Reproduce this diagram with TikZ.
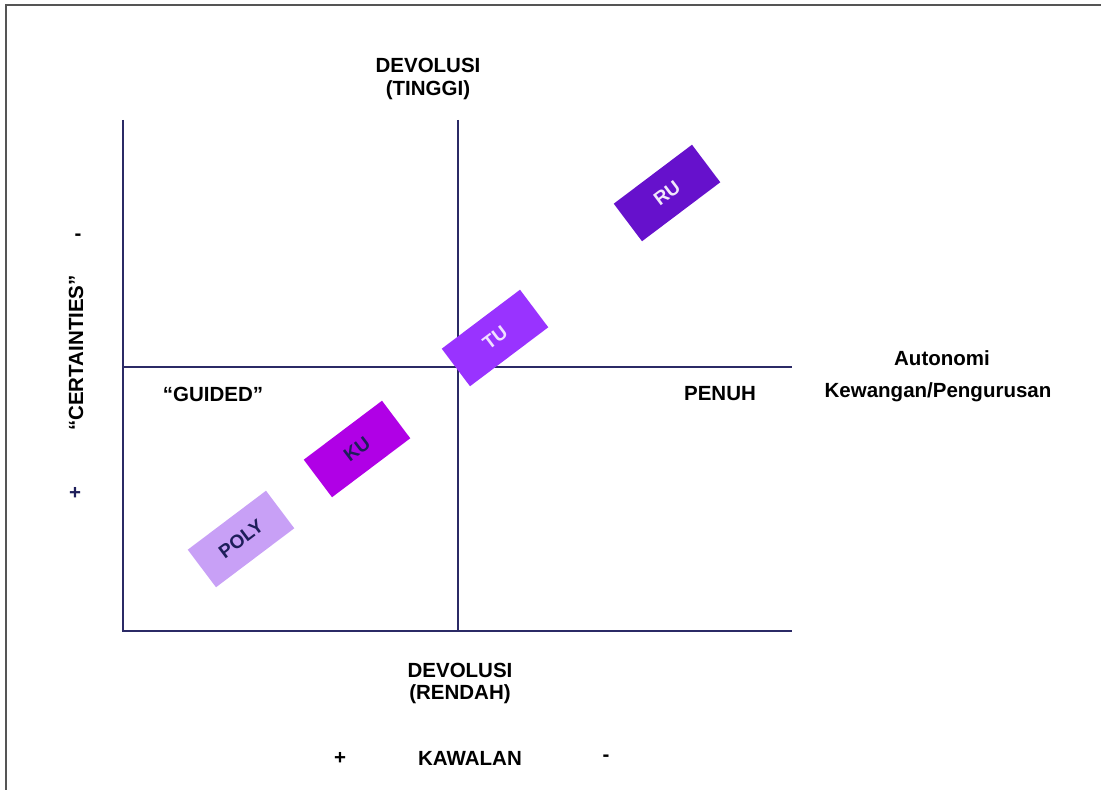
\documentclass[tikz,border=0pt]{standalone}
\usepackage{fontspec}
\setmainfont{Liberation Sans}
\begin{document}
\begin{tikzpicture}[x=1pt,y=1pt,
  axis/.style={draw=axisblue, line width=1.8pt},
  lbl/.style={font=\fontsize{20.5}{24}\selectfont\bfseries, text=black, inner sep=0pt},
  sign/.style={font=\fontsize{20.5}{24}\selectfont\bfseries, text=signblue, inner sep=0pt},
  uni/.style={minimum width=98pt, minimum height=47pt, inner sep=0pt, rotate=37,
    font=\fontsize{19}{22}\selectfont\bfseries}
]
\definecolor{axisblue}{HTML}{2B2A66}
\definecolor{signblue}{HTML}{1E1E5A}
\definecolor{ruc}{HTML}{6611CC}
\definecolor{tuc}{HTML}{9933FF}
\definecolor{kuc}{HTML}{B000E6}
\definecolor{polyc}{HTML}{C8A0F6}
\definecolor{framegray}{HTML}{555555}

\useasboundingbox (0,0) rectangle (1101,790);
% outer frame (top and left edges)
\draw[framegray, line width=2pt] (6,0) -- (6,785) -- (1101,785);

% quadrant axes
\coordinate (lt) at (123,670);
\coordinate (lb) at (123,159);
\coordinate (rb) at (792,159);
\coordinate (mt) at (458,670);
\coordinate (mb) at (458,159);
\coordinate (ml) at (123,423);
\coordinate (mr) at (792,423);
\draw[axis] (lt) -- (lb) -- (rb);
\draw[axis] (mt) -- (mb);
\draw[axis] (ml) -- (mr);

% axis captions
\node[lbl] (devt1) at (428,725) {DEVOLUSI};
\node[lbl] (devt2) at (428,700) {(TINGGI)};
\node[lbl] (devr1) at (460,120) {DEVOLUSI};
\node[lbl] (devr2) at (460,96) {(RENDAH)};
\node[lbl] (kaw) at (470,32) {KAWALAN};
\node[lbl] (kplus) at (340,32) {+};
\node[lbl] (kminus) at (606,32) {-};
\node[lbl] (auto1) at (942,432) {Autonomi};
\node[lbl] (auto2) at (938,398) {Kewangan/Pengurusan};
\node[lbl] (penuh) at (720,396) {PENUH};
\node[lbl] (guided) at (213,396) {“GUIDED”};
\node[lbl, rotate=90] (cert) at (76,437) {“CERTAINTIES”};
\node[lbl] (cminus) at (78,553) {-};
\node[sign] (cplus) at (75,297) {+};

% institutions
\node[uni, fill=ruc, text=white!90!ruc] (ru) at (667,597) {RU};
\node[uni, fill=tuc, text=white!85!tuc] (tu) at (495,452) {TU};
\node[uni, fill=kuc, text=signblue] (ku) at (357,341) {KU};
\node[uni, fill=polyc, text=signblue] (poly) at (241,251) {POLY};
\end{tikzpicture}
\end{document}
